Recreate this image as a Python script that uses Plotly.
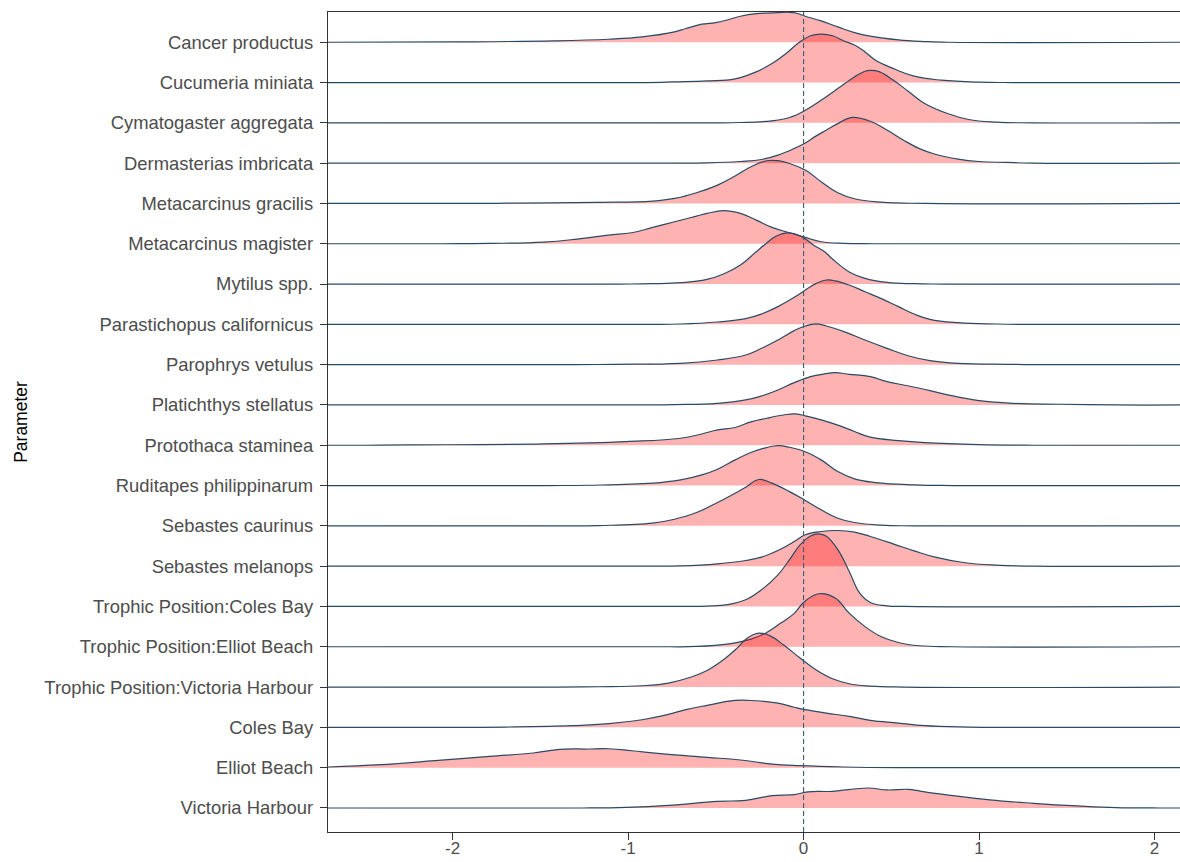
import plotly.graph_objects as go

# Parameter names, top ridge first
parameters = [
    "Cancer productus",
    "Cucumeria miniata",
    "Cymatogaster aggregata",
    "Dermasterias imbricata",
    "Metacarcinus gracilis",
    "Metacarcinus magister",
    "Mytilus spp.",
    "Parastichopus californicus",
    "Parophrys vetulus",
    "Platichthys stellatus",
    "Protothaca staminea",
    "Ruditapes philippinarum",
    "Sebastes caurinus",
    "Sebastes melanops",
    "Trophic Position:Coles Bay",
    "Trophic Position:Elliot Beach",
    "Trophic Position:Victoria Harbour",
    "Coles Bay",
    "Elliot Beach",
    "Victoria Harbour",
]

# Ridge profiles: posterior value (x) and scaled density height (h, in ridge-row units)
cancer_productus_x = [-2.0, -1.42, -1.11, -0.92, -0.735, -0.67, -0.58, -0.50, -0.425, -0.36, -0.27, -0.18, -0.08, -0.04, 0.01, 0.10, 0.195, 0.29, 0.38, 0.54, 0.69, 0.82]
cancer_productus_h = [0.008, 0.033, 0.074, 0.132, 0.256, 0.34, 0.447, 0.488, 0.563, 0.645, 0.71, 0.728, 0.742, 0.72, 0.645, 0.53, 0.38, 0.24, 0.15, 0.058, 0.017, 0.0]

cucumeria_miniata_x = [-0.90, -0.735, -0.55, -0.39, -0.27, -0.18, -0.10, -0.02, 0.04, 0.10, 0.165, 0.23, 0.29, 0.35, 0.41, 0.51, 0.63, 0.785, 1.0, 1.2]
cucumeria_miniata_h = [0.0, 0.017, 0.041, 0.091, 0.265, 0.47, 0.72, 1.01, 1.16, 1.2, 1.16, 1.03, 0.93, 0.76, 0.55, 0.35, 0.157, 0.058, 0.008, 0.0]

cymatogaster_aggregata_x = [-0.55, -0.36, -0.18, -0.08, 0.01, 0.10, 0.195, 0.29, 0.35, 0.38, 0.43, 0.51, 0.60, 0.69, 0.82, 0.94, 1.095, 1.31]
cymatogaster_aggregata_h = [0.0, 0.008, 0.05, 0.132, 0.31, 0.56, 0.85, 1.14, 1.28, 1.3, 1.27, 1.06, 0.77, 0.48, 0.23, 0.083, 0.017, 0.0]

dermasterias_imbricata_x = [-0.75, -0.55, -0.36, -0.24, -0.146, -0.053, 0.01, 0.07, 0.13, 0.195, 0.27, 0.38, 0.475, 0.57, 0.66, 0.75, 0.88, 1.0, 1.16, 1.3]
dermasterias_imbricata_h = [0.0, 0.008, 0.041, 0.09, 0.2, 0.365, 0.5, 0.67, 0.82, 0.98, 1.13, 1.04, 0.82, 0.57, 0.36, 0.22, 0.1, 0.04, 0.017, 0.0]

metacarcinus_gracilis_x = [-1.9, -1.635, -1.17, -0.86, -0.735, -0.61, -0.49, -0.39, -0.30, -0.21, -0.146, -0.08, 0.01, 0.10, 0.195, 0.29, 0.44, 0.69]
metacarcinus_gracilis_h = [0.0, 0.008, 0.025, 0.058, 0.124, 0.265, 0.455, 0.68, 0.91, 1.06, 1.06, 0.99, 0.83, 0.54, 0.265, 0.116, 0.033, 0.0]

metacarcinus_magister_x = [-2.05, -1.79, -1.48, -1.29, -1.11, -0.98, -0.86, -0.735, -0.61, -0.55, -0.456, -0.36, -0.27, -0.18, -0.08, 0.01, 0.10, 0.23, 0.4]
metacarcinus_magister_h = [0.0, 0.008, 0.041, 0.116, 0.215, 0.273, 0.405, 0.545, 0.686, 0.752, 0.82, 0.752, 0.587, 0.405, 0.273, 0.157, 0.05, 0.008, 0.0]

mytilus_spp_x = [-1.05, -0.86, -0.70, -0.55, -0.456, -0.36, -0.27, -0.21, -0.16, -0.09, -0.02, 0.056, 0.12, 0.165, 0.26, 0.35, 0.475, 0.63, 0.8]
mytilus_spp_h = [0.0, 0.008, 0.033, 0.116, 0.248, 0.47, 0.80, 1.02, 1.18, 1.27, 1.2, 0.97, 0.8, 0.62, 0.3, 0.14, 0.041, 0.008, 0.0]

parastichopus_californicus_x = [-0.9, -0.70, -0.49, -0.33, -0.24, -0.146, -0.053, 0.01, 0.07, 0.13, 0.18, 0.26, 0.35, 0.44, 0.54, 0.63, 0.72, 0.88, 1.1, 1.3]
parastichopus_californicus_h = [0.0, 0.008, 0.058, 0.14, 0.256, 0.44, 0.67, 0.85, 1.01, 1.1, 1.08, 0.975, 0.81, 0.645, 0.44, 0.256, 0.124, 0.041, 0.008, 0.0]

parophrys_vetulus_x = [-1.3, -1.08, -0.70, -0.49, -0.33, -0.24, -0.146, -0.053, 0.01, 0.07, 0.13, 0.23, 0.35, 0.475, 0.60, 0.72, 0.88, 1.16, 1.4]
parophrys_vetulus_h = [0.0, 0.008, 0.033, 0.116, 0.24, 0.405, 0.61, 0.845, 0.96, 1.01, 0.96, 0.82, 0.61, 0.405, 0.215, 0.1, 0.033, 0.008, 0.0]

platichthys_stellatus_x = [-0.95, -0.735, -0.49, -0.33, -0.24, -0.146, -0.053, 0.04, 0.12, 0.18, 0.26, 0.38, 0.475, 0.60, 0.72, 0.85, 1.0, 1.19, 1.47, 1.78]
platichthys_stellatus_h = [0.0, 0.008, 0.041, 0.124, 0.223, 0.372, 0.554, 0.703, 0.77, 0.80, 0.76, 0.703, 0.58, 0.47, 0.355, 0.223, 0.107, 0.041, 0.017, 0.0]

protothaca_staminea_x = [-2.5, -2.26, -1.48, -1.01, -0.70, -0.58, -0.49, -0.39, -0.30, -0.21, -0.115, -0.053, 0.01, 0.10, 0.195, 0.29, 0.38, 0.54, 0.69, 1.0, 1.31]
protothaca_staminea_h = [0.0, 0.008, 0.033, 0.091, 0.174, 0.28, 0.38, 0.44, 0.58, 0.67, 0.75, 0.78, 0.73, 0.63, 0.5, 0.34, 0.2, 0.116, 0.066, 0.017, 0.0]

ruditapes_philippinarum_x = [-1.45, -1.23, -0.86, -0.70, -0.58, -0.49, -0.39, -0.30, -0.21, -0.146, -0.08, 0.01, 0.10, 0.195, 0.29, 0.41, 0.63, 0.85]
ruditapes_philippinarum_h = [0.0, 0.008, 0.058, 0.14, 0.265, 0.405, 0.637, 0.82, 0.943, 0.99, 0.95, 0.84, 0.637, 0.347, 0.165, 0.074, 0.017, 0.0]

sebastes_caurinus_x = [-1.4, -1.17, -0.86, -0.735, -0.61, -0.49, -0.39, -0.33, -0.254, -0.18, -0.08, 0.01, 0.10, 0.195, 0.29, 0.44, 0.63]
sebastes_caurinus_h = [0.0, 0.008, 0.066, 0.165, 0.33, 0.58, 0.81, 0.96, 1.15, 1.06, 0.85, 0.63, 0.4, 0.19, 0.083, 0.017, 0.0]

sebastes_melanops_x = [-0.9, -0.70, -0.49, -0.33, -0.24, -0.146, -0.053, 0.01, 0.10, 0.195, 0.29, 0.38, 0.51, 0.63, 0.75, 0.91, 1.095, 1.31]
sebastes_melanops_h = [0.0, 0.008, 0.058, 0.14, 0.223, 0.388, 0.61, 0.78, 0.86, 0.885, 0.845, 0.736, 0.554, 0.38, 0.223, 0.091, 0.025, 0.0]

tp_coles_bay_x = [-0.7, -0.55, -0.425, -0.33, -0.24, -0.146, -0.08, -0.02, 0.04, 0.087, 0.13, 0.195, 0.26, 0.32, 0.38, 0.475, 0.57]
tp_coles_bay_h = [0.0, 0.008, 0.05, 0.165, 0.413, 0.786, 1.16, 1.53, 1.75, 1.8, 1.74, 1.41, 0.87, 0.33, 0.1, 0.017, 0.0]

tp_elliot_beach_x = [-0.8, -0.61, -0.425, -0.30, -0.21, -0.13, -0.053, 0.0, 0.087, 0.18, 0.26, 0.35, 0.44, 0.54, 0.66, 0.85]
tp_elliot_beach_h = [0.0, 0.008, 0.074, 0.19, 0.355, 0.587, 0.83, 1.1, 1.315, 1.21, 0.835, 0.5, 0.256, 0.107, 0.025, 0.0]

tp_victoria_harbour_x = [-1.4, -1.17, -0.92, -0.77, -0.64, -0.55, -0.456, -0.38, -0.32, -0.254, -0.19, -0.115, -0.02, 0.07, 0.165, 0.26, 0.38, 0.57]
tp_victoria_harbour_h = [0.0, 0.008, 0.033, 0.1, 0.25, 0.41, 0.68, 0.96, 1.22, 1.34, 1.27, 1.05, 0.72, 0.43, 0.207, 0.083, 0.025, 0.0]

coles_bay_x = [-2.0, -1.70, -1.32, -1.11, -0.92, -0.80, -0.67, -0.55, -0.39, -0.27, -0.146, -0.053, 0.01, 0.13, 0.26, 0.38, 0.54, 0.69, 0.94, 1.19]
coles_bay_h = [0.0, 0.008, 0.041, 0.091, 0.19, 0.29, 0.44, 0.546, 0.67, 0.66, 0.6, 0.5, 0.44, 0.355, 0.273, 0.174, 0.107, 0.041, 0.008, 0.0]

elliot_beach_x = [-2.71, -2.41, -2.1, -1.79, -1.54, -1.39, -1.23, -1.11, -0.98, -0.80, -0.55, -0.36, -0.18, -0.02, 0.23, 0.54]
elliot_beach_h = [0.017, 0.074, 0.174, 0.28, 0.364, 0.455, 0.463, 0.47, 0.42, 0.34, 0.256, 0.19, 0.09, 0.05, 0.017, 0.0]

victoria_harbour_x = [-1.26, -1.01, -0.77, -0.49, -0.33, -0.18, -0.053, 0.025, 0.165, 0.366, 0.475, 0.60, 0.69, 0.85, 1.06, 1.31, 1.56, 1.78, 2.03]
victoria_harbour_h = [0.0, 0.017, 0.066, 0.165, 0.19, 0.306, 0.33, 0.4, 0.414, 0.496, 0.447, 0.463, 0.4, 0.306, 0.2, 0.116, 0.05, 0.008, 0.0]

x_ticks = [-2, -1, 0, 1, 2]

ridge_x = [
    cancer_productus_x, cucumeria_miniata_x, cymatogaster_aggregata_x, dermasterias_imbricata_x,
    metacarcinus_gracilis_x, metacarcinus_magister_x, mytilus_spp_x, parastichopus_californicus_x,
    parophrys_vetulus_x, platichthys_stellatus_x, protothaca_staminea_x, ruditapes_philippinarum_x,
    sebastes_caurinus_x, sebastes_melanops_x, tp_coles_bay_x, tp_elliot_beach_x,
    tp_victoria_harbour_x, coles_bay_x, elliot_beach_x, victoria_harbour_x,
]
ridge_h = [
    cancer_productus_h, cucumeria_miniata_h, cymatogaster_aggregata_h, dermasterias_imbricata_h,
    metacarcinus_gracilis_h, metacarcinus_magister_h, mytilus_spp_h, parastichopus_californicus_h,
    parophrys_vetulus_h, platichthys_stellatus_h, protothaca_staminea_h, ruditapes_philippinarum_h,
    sebastes_caurinus_h, sebastes_melanops_h, tp_coles_bay_h, tp_elliot_beach_h,
    tp_victoria_harbour_h, coles_bay_h, elliot_beach_h, victoria_harbour_h,
]

X_LO, X_HI = -2.71, 2.145
FILL = "rgba(255,0,0,0.30)"
LINE = "#2A4A62"
AXIS = "#333333"
TEXT = "#4D4D4D"
FONT = "Liberation Sans, Arial, sans-serif"

n = len(parameters)
fig = go.Figure()

# Top ridge first, so lower ridges are painted over the ones above
for i, (name, xs, hs) in enumerate(zip(parameters, ridge_x, ridge_h)):
    base = n - 1 - i
    px = list(xs)
    py = [base + h for h in hs]
    if px[0] > X_LO:
        px = [X_LO] + px
        py = [base] + py
    if px[-1] < X_HI:
        px = px + [X_HI]
        py = py + [base]
    fig.add_trace(go.Scatter(
        x=[X_LO, X_HI], y=[base, base], mode="lines",
        line=dict(width=0, color="rgba(0,0,0,0)"),
        hoverinfo="skip", showlegend=False,
    ))
    fig.add_trace(go.Scatter(
        x=px, y=py, mode="lines", name=name,
        fill="tonexty", fillcolor=FILL,
        line=dict(color=LINE, width=1.2, shape="spline", smoothing=1.2),
        showlegend=False,
    ))

# Reference line at zero
fig.add_shape(
    type="line", xref="x", yref="paper", x0=0, x1=0, y0=0, y1=1,
    line=dict(color="#3F5B70", width=1.1, dash="5px,3px"), layer="above",
)

fig.update_layout(
    width=1180, height=862,
    margin=dict(l=328, r=0, t=12, b=30),
    paper_bgcolor="white", plot_bgcolor="white",
    font=dict(family=FONT),
    xaxis=dict(
        range=[X_LO, X_HI], showgrid=False, zeroline=False,
        showline=True, linecolor=AXIS, linewidth=1.3, mirror=True,
        ticks="outside", ticklen=7, tickwidth=1.3, tickcolor=AXIS,
        tickvals=x_ticks, ticktext=[str(v) for v in x_ticks],
        tickfont=dict(size=17, color=TEXT, family=FONT),
        ticklabelstandoff=-7,
    ),
    yaxis=dict(
        range=[-0.596, n - 1 + 0.75], showgrid=False, zeroline=False,
        showline=True, linecolor=AXIS, linewidth=1.3,
        ticks="outside", ticklen=7, tickwidth=1.3, tickcolor=AXIS,
        tickvals=list(range(n)), ticktext=list(reversed(parameters)),
        tickfont=dict(size=18.4, color=TEXT, family=FONT),
        ticklabelstandoff=3,
        title=dict(text="Parameter", font=dict(size=17.5, color="black", family=FONT), standoff=12),
    ),
)

fig.write_html("out.html")
